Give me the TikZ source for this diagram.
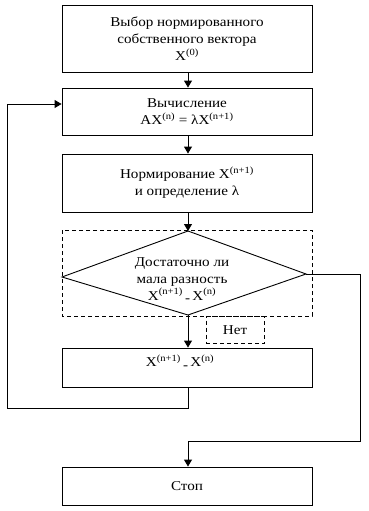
\documentclass[tikz,border=0pt]{standalone}
\usepackage{fontspec}
\setmainfont[FakeStretch=1.12]{Liberation Serif}
\usetikzlibrary{arrows.meta}
\newcommand{\dsh}{\,\raisebox{-0.45ex}{-}\,}
\begin{document}
\begin{tikzpicture}[x=1pt,y=-1pt,
  every node/.style={font=\fontsize{13.5}{17}\selectfont, align=center, inner sep=0pt},
  blk/.style={draw, line width=0.9pt, minimum width=250pt},
  conn/.style={line width=0.9pt},
  arr/.style={conn, -{Triangle[width=8pt,length=7pt]}},
  dsh box/.style={draw, line width=0.8pt, dash pattern=on 4pt off 3pt}]
\useasboundingbox (0,0) rectangle (369,511);
% boxes
\node[blk, minimum height=67pt] (b1) at (187,38.5) {Выбор нормированного\\собственного вектора\\X\textsuperscript{(0)}};
\node[blk, minimum height=47pt] (b2) at (187,111.5) {Вычисление\\AX\textsuperscript{(n)} = λX\textsuperscript{(n+1)}};
\node[blk, minimum height=58pt] (b3) at (187,183) {Нормирование X\textsuperscript{(n+1)}\\и определение λ};
% decision
\draw[dsh box] (62,230) rectangle (312,316);
\coordinate (dl) at (62,277);
\coordinate (dt) at (188,231);
\coordinate (dr) at (306,274);
\coordinate (db) at (188,315);
\draw[conn] (dl) -- (dt) -- (dr) -- (db) -- cycle;
\node (dtext) at (182,280) {Достаточно ли\\мала разность\\X\textsuperscript{(n+1)}\dsh X\textsuperscript{(n)}};
\node[dsh box, minimum width=58pt, minimum height=27pt] (no) at (235,330) {Нет};
\node[blk, minimum height=39pt] (b5) at (187,367.5) {};
\node (b5t) at (180,362) {X\textsuperscript{(n+1)}\dsh X\textsuperscript{(n)}};
\node[blk, minimum height=38pt] (stop) at (187,486) {Стоп};
% connectors
\draw[arr] (b1.south -| dt) -- (b2.north -| dt);
\draw[arr] (b2.south -| dt) -- (b3.north -| dt);
\draw[arr] (b3.south -| dt) -- (dt);
\draw[arr] (db) -- (b5.north -| db);
\coordinate (l1) at (188,408);
\coordinate (l2) at (7,408);
\coordinate (l3) at (7,104);
\draw[conn] (b5.south -| db) -- (l1) -- (l2) -- (l3);
\draw[arr] (l3) -- (b2.west |- l3);
\coordinate (r1) at (360,274);
\coordinate (r2) at (360,441);
\coordinate (r3) at (188,441);
\draw[conn] (dr) -- (r1) -- (r2) -- (r3);
\draw[arr] (r3) -- (stop.north -| r3);
\end{tikzpicture}
\end{document}
